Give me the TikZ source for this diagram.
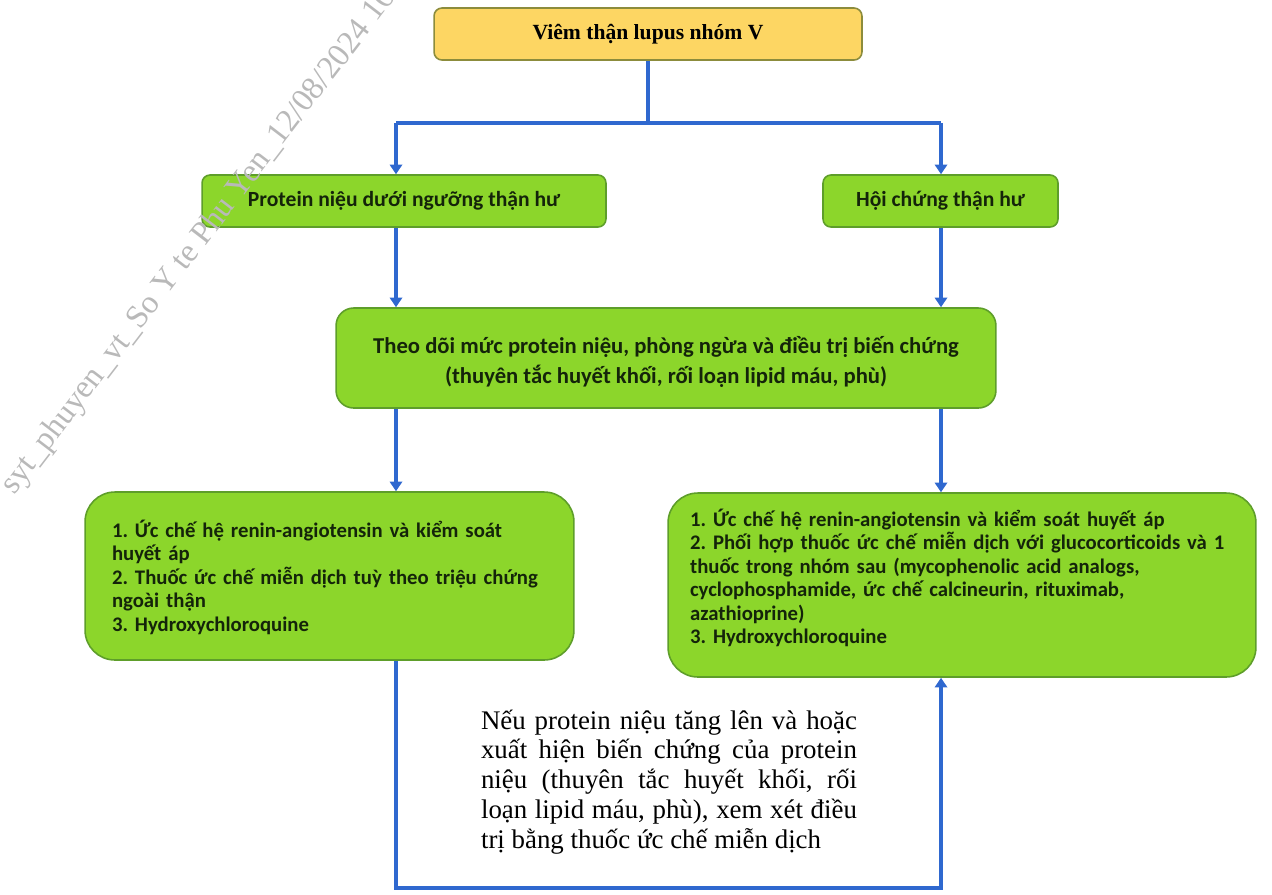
\documentclass[tikz,border=0pt]{standalone}
\usepackage{fontspec}
\setmainfont{Liberation Serif}
\newfontfamily\calib{Carlito}
\usetikzlibrary{arrows.meta}
\definecolor{gfill}{HTML}{8CD62B}
\definecolor{gdraw}{HTML}{5E9E2A}
\definecolor{yfill}{HTML}{FDD663}
\definecolor{ydraw}{HTML}{8C8C3C}
\definecolor{bline}{HTML}{2F68CF}
\definecolor{gtext}{HTML}{14240A}
\begin{document}
\frenchspacing
\begin{tikzpicture}[x=0.02cm,y=-0.02cm,
  gbox/.style={draw=gdraw, line width=0.9pt, fill=gfill, inner sep=0pt},
  ybox/.style={draw=ydraw, line width=0.9pt, fill=yfill, inner sep=0pt, rounded corners=4.5pt,
    font=\bfseries\fontsize{12.3}{14}\selectfont},
  gtxt/.style={font=\calib\bfseries\fontsize{12.3}{14}\selectfont, text=gtext, inner sep=0pt},
  ltxt/.style={gtxt, align=left, font=\calib\bfseries\fontsize{11.8}{13.4}\selectfont},
  conn/.style={draw=bline, line width=1.8pt},
  arr/.style={conn, -{Triangle[length=5.5pt,width=7pt]}},
  note/.style={font=\fontsize{15.3}{17}\selectfont, text width=7.52cm, align=justify, inner sep=0pt},
  wmark/.style={font=\fontsize{18.5}{18.5}\selectfont, text=gray!55, inner sep=0pt}
]
\useasboundingbox (0,0) rectangle (1272,894);

% boxes
\node[ybox, minimum width=8.56cm, minimum height=1.04cm] (top) at (648,34) {Viêm thận lupus nhóm V};
\node[gbox, rounded corners=4.5pt, minimum width=8.08cm, minimum height=1.04cm, gtxt] (pl) at (404,201) {Protein niệu dưới ngưỡng thận hư};
\node[gbox, rounded corners=4.5pt, minimum width=4.7cm, minimum height=1.04cm, gtxt] (hc) at (940.5,201) {Hội chứng thận hư};
\node[gbox, rounded corners=10pt, minimum width=13.2cm, minimum height=2.0cm] (td) at (666,358) {};
\node[gtxt, align=center, font=\calib\bfseries\fontsize{12.9}{17}\selectfont] (tdt) at (666,362) {Theo dõi mức protein niệu, phòng ngừa và điều trị biến chứng\\(thuyên tắc huyết khối, rối loạn lipid máu, phù)};
\node[gbox, rounded corners=17pt, minimum width=9.78cm, minimum height=3.36cm] (bl) at (329.5,576) {};
\node[ltxt, text width=9.0cm] (blt) at (337,577) {1. Ức chế hệ renin-angiotensin và kiểm soát\\huyết áp\\2. Thuốc ức chế miễn dịch tuỳ theo triệu chứng\\ngoài thận\\3. Hydroxychloroquine};
\node[gbox, rounded corners=17pt, minimum width=11.76cm, minimum height=3.68cm] (br) at (962,585) {};
\node[ltxt, text width=11.0cm] (brt) at (965,578) {1. Ức chế hệ renin-angiotensin và kiểm soát huyết áp\\2. Phối hợp thuốc ức chế miễn dịch với glucocorticoids và 1\\thuốc trong nhóm sau (mycophenolic acid analogs,\\cyclophosphamide, ức chế calcineurin, rituximab,\\azathioprine)\\3. Hydroxychloroquine};

\node[note] (nt) at (669,782) {Nếu protein niệu tăng lên và hoặc\linebreak xuất hiện biến chứng của protein\linebreak niệu (thuyên tắc huyết khối, rối\linebreak loạn lipid máu, phù), xem xét điều\linebreak trị bằng thuốc ức chế miễn dịch};

% connectors
\coordinate (jl) at (396,123);
\coordinate (jr) at (941,123);
\coordinate (lb) at (396,888);
\draw[conn] (top.south) -- (top.south |- jl);
\draw[conn] (jl) -- (jr);
\draw[arr] (jl) -- (jl |- pl.north);
\draw[arr] (jr) -- (jr |- hc.north);
\draw[arr] (jl |- pl.south) -- (jl |- td.north);
\draw[arr] (jr |- hc.south) -- (jr |- td.north);
\draw[arr] (jl |- td.south) -- (jl |- bl.north);
\draw[arr] (jr |- td.south) -- (jr |- br.north);
\draw[arr, line join=miter] (jl |- bl.south) -- (lb) -- (lb -| jr) -- (jr |- br.south);

% watermark
\node[wmark, rotate=52.5, anchor=south west] (wm) at (20,500) {syt\_phuyen\_vt\_So Y te Phu Yen\_12/08/2024 16:};
\end{tikzpicture}
\end{document}
